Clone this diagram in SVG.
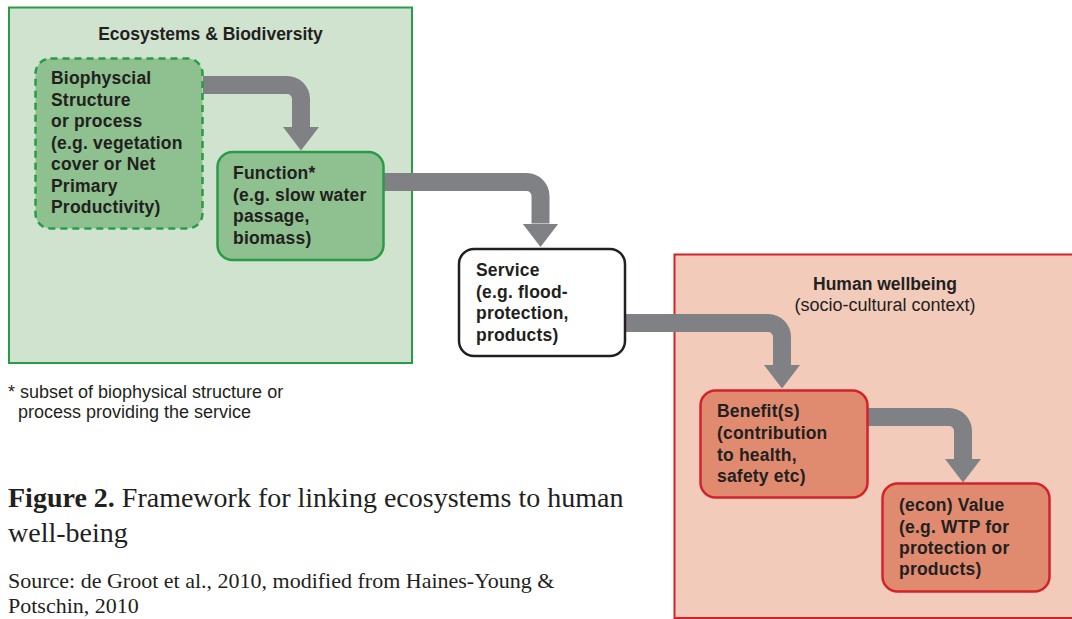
<svg xmlns="http://www.w3.org/2000/svg" width="1072" height="619" viewBox="0 0 1072 619">
<defs>
<style>
.t{font-family:"Liberation Sans",Arial,Helvetica,sans-serif;fill:#231f20}
.b{font-weight:bold;font-size:17.5px;letter-spacing:0.2px}
.h{font-weight:bold;font-size:17.5px}
.cap{font-family:"Liberation Serif","Times New Roman",serif;fill:#231f20}
.arr{fill:none;stroke:#808184;stroke-width:18}
.gnode{fill:#8fc08f;stroke:#2a9b48;stroke-width:2.5}
.rnode{fill:#e08b70;stroke:#d2232a;stroke-width:2.5}
</style>
<marker id="head" markerUnits="userSpaceOnUse" markerWidth="24" markerHeight="38" viewBox="0 -19 24 38" refX="0" refY="0" orient="auto">
<path d="M0,-18 L23.5,0 L0,18 Z" fill="#808184"/>
</marker>
</defs>
<rect width="1072" height="619" fill="#ffffff"/>

<g id="ecosystems">
<rect x="9" y="7.5" width="403" height="355.5" fill="#d0e3cf" stroke="#2a9b48" stroke-width="2"/>
<text class="t h" x="210.5" y="40" text-anchor="middle">Ecosystems &amp; Biodiversity</text>
</g>

<g id="wellbeing">
<rect x="674.5" y="254.5" width="400" height="363.5" fill="#f2cbbb" stroke="#d2232a" stroke-width="2"/>
<text class="t h" x="885" y="290" text-anchor="middle">Human wellbeing</text>
<text class="t" x="885" y="311" text-anchor="middle" font-size="18">(socio-cultural context)</text>
</g>

<g id="connectors">
<path class="arr" d="M203,85 H287 A14,14 0 0 1 301,99 V127" marker-end="url(#head)"/>
<path class="arr" d="M384,182 H526.5 A14,14 0 0 1 540.5,196 V223.5" marker-end="url(#head)"/>
<path class="arr" d="M626,323 H768 A14,14 0 0 1 782,337 V365" marker-end="url(#head)"/>
<path class="arr" d="M868,417 H949 A14,14 0 0 1 963,431 V459" marker-end="url(#head)"/>
</g>

<g id="biophysical">
<rect class="gnode" x="35.5" y="58.5" width="167" height="170" rx="15" stroke-dasharray="7,5"/>
<text class="t b">
<tspan x="51" y="84">Biophyscial</tspan>
<tspan x="51" y="106">Structure</tspan>
<tspan x="51" y="127">or process</tspan>
<tspan x="51" y="148.5">(e.g. vegetation</tspan>
<tspan x="51" y="170">cover or Net</tspan>
<tspan x="51" y="191.5">Primary</tspan>
<tspan x="51" y="213">Productivity)</tspan>
</text>
</g>

<g id="function">
<rect class="gnode" x="217.5" y="152" width="166" height="108" rx="15"/>
<text class="t b">
<tspan x="233" y="179">Function*</tspan>
<tspan x="233" y="201">(e.g. slow water</tspan>
<tspan x="233" y="222">passage,</tspan>
<tspan x="233" y="244">biomass)</tspan>
</text>
</g>

<g id="service">
<rect x="459" y="249" width="166" height="107" rx="15" fill="#ffffff" stroke="#231f20" stroke-width="2.5"/>
<text class="t b">
<tspan x="476" y="276">Service</tspan>
<tspan x="476" y="298">(e.g. flood-</tspan>
<tspan x="476" y="319">protection,</tspan>
<tspan x="476" y="341">products)</tspan>
</text>
</g>

<g id="benefit">
<rect class="rnode" x="700.5" y="390.5" width="167" height="107" rx="15"/>
<text class="t b">
<tspan x="717" y="417">Benefit(s)</tspan>
<tspan x="717" y="439">(contribution</tspan>
<tspan x="717" y="461">to health,</tspan>
<tspan x="717" y="482">safety etc)</tspan>
</text>
</g>

<g id="value">
<rect class="rnode" x="882.5" y="483.5" width="167" height="108" rx="15"/>
<text class="t b">
<tspan x="899" y="511">(econ) Value</tspan>
<tspan x="899" y="533">(e.g. WTP for</tspan>
<tspan x="899" y="554">protection or</tspan>
<tspan x="899" y="575">products)</tspan>
</text>
</g>

<g id="footnote">
<text class="t" font-size="18">
<tspan x="8" y="398">* subset of biophysical structure or</tspan>
<tspan x="18" y="418">process providing the service</tspan>
</text>
</g>

<g id="caption">
<text class="cap" font-size="28"><tspan x="8" y="507" font-weight="bold">Figure 2.</tspan> Framework for linking ecosystems to human</text>
<text class="cap" font-size="28" x="8" y="542">well-being</text>
<text class="cap" font-size="22" x="8" y="588">Source: de Groot et al., 2010, modified from Haines-Young &amp;</text>
<text class="cap" font-size="22" x="8" y="613">Potschin, 2010</text>
</g>
</svg>
